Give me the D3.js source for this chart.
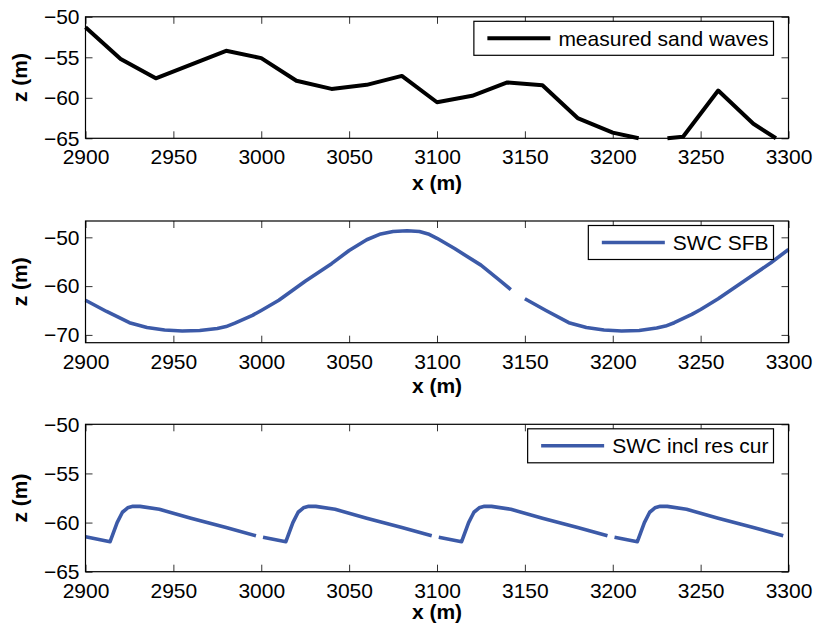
<!DOCTYPE html>
<html>
<head>
<meta charset="utf-8">
<script src="https://cdn.jsdelivr.net/npm/d3@7"></script>
<style>
  html, body { margin: 0; padding: 0; background: #ffffff; }
  svg { display: block; }
  text { font-family: "Liberation Sans", Arial, Helvetica, sans-serif; }
</style>
</head>
<body>
<svg id="chart" width="816" height="628"></svg>
<script>
// ---------------- data ----------------
const xTicks = [2900, 2950, 3000, 3050, 3100, 3150, 3200, 3250, 3300];

// panel 1: measured sand waves
const measuredX = [2900, 2920, 2940, 2960, 2980, 3000, 3020, 3040, 3060, 3080, 3100,
                   3120, 3140, 3160, 3180, 3200, 3220, 3240, 3260, 3280, 3300];
const measuredZ = [-51.3, -55.2, -57.6, -55.9, -54.2, -55.1, -57.9, -58.9, -58.4, -57.3, -60.55,
                   -59.75, -58.1, -58.45, -62.5, -64.3, -65.25, -64.8, -59.1, -63.2, -66.0];
const measuredYTicks = [-65, -60, -55, -50];

// panel 2: SWC SFB (null = break in line)
const sfbX = [2900, 2912, 2925, 2935, 2945, 2955, 2965, 2975, 2980, 2985, 2995, 3000, 3010, 3025,
              3040, 3050, 3060, 3068, 3075, 3083, 3090, 3095, 3100, 3110, 3125, 3135, 3142, 3146,
              3150, 3162, 3175, 3185, 3195, 3205, 3215, 3225, 3230, 3235, 3245, 3250, 3260, 3275,
              3290, 3300];
const sfbZ = [-62.9, -65.2, -67.5, -68.5, -69.0, -69.2, -69.1, -68.7, -68.3, -67.6, -66.0, -65.0, -62.9, -59.0,
              -55.4, -52.7, -50.5, -49.3, -48.8, -48.65, -48.8, -49.3, -50.2, -52.3, -55.7, -58.6, -60.7, null,
              -62.6, -65.0, -67.5, -68.5, -69.0, -69.2, -69.1, -68.6, -68.2, -67.5, -65.8, -64.8, -62.6, -58.9,
              -55.2, -52.5];
const sfbYTicks = [-70, -60, -50];

// panel 3: SWC incl res cur (null = break in line)
const resX = [2900, 2914, 2918, 2921, 2924, 2927, 2931, 2942, 2960, 2980, 2997, 2999,
              3001, 3014, 3018, 3021, 3024, 3027, 3031, 3042, 3060, 3080, 3097, 3099,
              3101, 3114, 3118, 3121, 3124, 3127, 3131, 3142, 3160, 3180, 3197, 3199,
              3201, 3214, 3218, 3221, 3224, 3227, 3231, 3242, 3260, 3280, 3297];
const resZ = [-61.45, -61.95, -60.0, -58.95, -58.5, -58.35, -58.35, -58.65, -59.55, -60.5, -61.35, null,
              -61.5, -61.95, -60.0, -58.95, -58.5, -58.35, -58.35, -58.65, -59.55, -60.5, -61.35, null,
              -61.5, -61.95, -60.0, -58.95, -58.5, -58.35, -58.35, -58.65, -59.55, -60.5, -61.35, null,
              -61.5, -61.95, -60.0, -58.95, -58.5, -58.35, -58.35, -58.65, -59.55, -60.5, -61.35];
const resYTicks = [-65, -60, -55, -50];

const legendLabels = ["measured sand waves", "SWC SFB", "SWC incl res cur"];
const xLabel = "x (m)";
const yLabel = "z (m)";

// ---------------- drawing ----------------
const svg = d3.select("#chart");
const BLUE = "#3c5aa8";
const FS = 21;

const panels = [
  { xs: measuredX, zs: measuredZ, yTicks: measuredYTicks, domain: [-65, -50], top: 16.8, bottom: 138.3,
    color: "#000000", width: 4, label: legendLabels[0], xlabY: 190 },
  { xs: sfbX, zs: sfbZ, yTicks: sfbYTicks, domain: [-71.6, -46.65], top: 221, bottom: 342.7,
    color: BLUE, width: 3.6, label: legendLabels[1], xlabY: 393 },
  { xs: resX, zs: resZ, yTicks: resYTicks, domain: [-65, -50], top: 424.3, bottom: 571.7,
    color: BLUE, width: 3.6, label: legendLabels[2], xlabY: 619 }
];

const left = 85.5, right = 788.5;

// clip the data geometry to the axis limits (the stroke itself is not clipped)
function clipToRange(data, lo, hi) {
  const out = [];
  for (let k = 0; k < data.length; k++) {
    const d = data[k];
    const prev = k > 0 ? data[k - 1] : null;
    const inside = d.z !== null && d.z >= lo && d.z <= hi;
    if (prev && prev.z !== null && d.z !== null) {
      const pIn = prev.z >= lo && prev.z <= hi;
      if (pIn !== inside) {
        const b = (pIn ? (d.z < lo ? lo : hi) : (prev.z < lo ? lo : hi));
        const t = (b - prev.z) / (d.z - prev.z);
        out.push({ x: prev.x + t * (d.x - prev.x), z: b });
      }
    }
    out.push(inside ? d : { x: d.x, z: null });
  }
  return out;
}

panels.forEach((p, i) => {
  const x = d3.scaleLinear().domain([2900, 3300]).range([left, right]);
  const y = d3.scaleLinear().domain(p.domain).range([p.bottom, p.top]);
  const g = svg.append("g");

  // axes
  const fmt = d3.format("d");
  const ax = (sel) => sel.selectAll("text").attr("font-size", FS).attr("fill", "#000");
  g.append("g").attr("transform", `translate(0,${p.bottom})`)
    .call(d3.axisBottom(x).tickValues(xTicks).tickFormat(fmt).tickSizeInner(-7).tickSizeOuter(0).tickPadding(11))
    .call(ax).call(s => s.select(".domain").remove())
    .call(s => s.selectAll("line").attr("stroke", "#333"));
  g.append("g").attr("transform", `translate(0,${p.top})`)
    .call(d3.axisTop(x).tickValues(xTicks).tickFormat("").tickSizeInner(-7).tickSizeOuter(0))
    .call(s => s.select(".domain").remove())
    .call(s => s.selectAll("line").attr("stroke", "#333"));
  g.append("g").attr("transform", `translate(${left},0)`)
    .call(d3.axisLeft(y).tickValues(p.yTicks).tickFormat(d3.format("d")).tickSizeInner(-7).tickSizeOuter(0).tickPadding(6))
    .call(ax).call(s => s.select(".domain").remove())
    .call(s => s.selectAll("line").attr("stroke", "#333"));
  g.append("g").attr("transform", `translate(${right},0)`)
    .call(d3.axisRight(y).tickValues(p.yTicks).tickFormat("").tickSizeInner(-7).tickSizeOuter(0))
    .call(s => s.select(".domain").remove())
    .call(s => s.selectAll("line").attr("stroke", "#333"));

  // data line
  const raw = p.xs.map((xv, k) => ({ x: xv, z: p.zs[k] }));
  const data = clipToRange(raw, p.domain[0], p.domain[1]);
  const line = d3.line().defined(d => d.z !== null).x(d => x(d.x)).y(d => y(d.z));
  g.append("path").datum(data)
    .attr("d", line).attr("fill", "none")
    .attr("stroke", p.color).attr("stroke-width", p.width)
    .attr("stroke-linejoin", "round").attr("stroke-linecap", "butt");

  // box
  g.append("rect").attr("x", left).attr("y", p.top)
    .attr("width", right - left).attr("height", p.bottom - p.top)
    .attr("fill", "none").attr("stroke", "#000").attr("stroke-width", 1.2);

  // axis labels
  g.append("text").attr("x", (left + right) / 2).attr("y", p.xlabY)
    .attr("text-anchor", "middle").attr("font-size", FS).attr("font-weight", "bold").text(xLabel);
  g.append("text").attr("transform", `translate(27,${(p.top + p.bottom) / 2}) rotate(-90)`)
    .attr("text-anchor", "middle").attr("font-size", FS).attr("font-weight", "bold").text(yLabel);

  // legend
  const lg = g.append("g");
  const boxRight = right - 15, boxTop = p.top + 4.5, boxH = 34;
  const txt = lg.append("text").attr("font-size", FS).attr("y", boxTop + boxH / 2).attr("dy", "0.35em").text(p.label);
  const tw = txt.node().getComputedTextLength();
  const boxLeft = boxRight - (13.5 + 63 + 8 + tw + 5);
  lg.insert("rect", "text").attr("x", boxLeft).attr("y", boxTop).attr("width", boxRight - boxLeft).attr("height", boxH)
    .attr("fill", "#fff").attr("stroke", "#000").attr("stroke-width", 1.2);
  lg.append("line").attr("x1", boxLeft + 13.5).attr("x2", boxLeft + 76.5)
    .attr("y1", boxTop + boxH / 2).attr("y2", boxTop + boxH / 2)
    .attr("stroke", p.color).attr("stroke-width", p.width);
  txt.attr("x", boxLeft + 84.5);
});
</script>
</body>
</html>
